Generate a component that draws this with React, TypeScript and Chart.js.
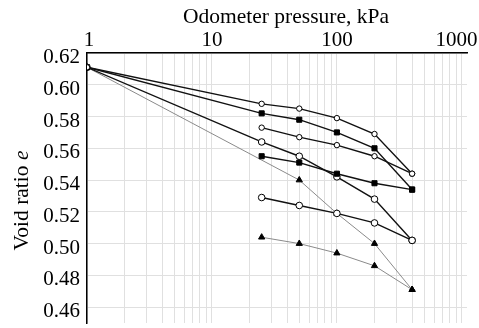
import { useEffect, useRef } from 'react';
import { Chart, registerables } from 'chart.js';

Chart.register(...registerables);

// ---- data ----
const pressures = [1, 25, 50, 100, 200, 400];
const seriesOpenTop = [0.611, 0.588, 0.585, 0.579, 0.569, 0.544];
const seriesSquareTop = [0.611, 0.582, 0.578, 0.570, 0.560, 0.534];
const seriesOpenMid = [null, 0.573, 0.567, 0.562, 0.555, 0.544];
const seriesSquareLow = [null, 0.555, 0.551, 0.544, 0.538, 0.534];
const seriesCircleA = [0.611, 0.564, 0.555, 0.542, 0.528, 0.502];
const seriesCircleB = [null, 0.529, 0.524, 0.519, 0.513, 0.502];
const seriesTriangleA = [0.611, null, 0.540, 0.519, 0.500, 0.471];
const seriesTriangleB = [null, 0.504, 0.500, 0.494, 0.486, 0.471];

const xTickValues = [
  1, 2, 3, 4, 5, 6, 7, 8, 9,
  10, 20, 30, 40, 50, 60, 70, 80, 90,
  100, 200, 300, 400, 500, 600, 700, 800, 900,
  1000,
];
const xTickLabels: Record<string, string> = {
  '1': '\u20091',
  '10': '10',
  '100': '100',
  '1000': '1000\u2002',
};
const yTickValues = [0.46, 0.48, 0.50, 0.52, 0.54, 0.56, 0.58, 0.60, 0.62];

const xTitle = 'Odometer pressure, kPa';
const yTitleMain = 'Void ratio ';
const yTitleItalic = 'e';

const FONT = '"Liberation Serif", "Times New Roman", serif';

function toPoints(vals: (number | null)[]) {
  return pressures
    .map((p, i) => ({ x: p, y: vals[i] }))
    .filter((pt) => pt.y !== null) as { x: number; y: number }[];
}

const titlePlugin = {
  id: 'customTitles',
  afterDraw(chart: any) {
    const { ctx, chartArea } = chart;
    ctx.save();
    ctx.fillStyle = '#000';
    ctx.font = `21.5px ${FONT}`;
    ctx.textAlign = 'center';
    ctx.textBaseline = 'alphabetic';
    ctx.fillText(xTitle, (chartArea.left + chartArea.right) / 2 + 9, 23);

    ctx.translate(28, 200.5);
    ctx.rotate(-Math.PI / 2);
    ctx.font = `21.5px ${FONT}`;
    const w1 = ctx.measureText(yTitleMain).width;
    ctx.font = `italic 21.5px ${FONT}`;
    const w2 = ctx.measureText(yTitleItalic).width;
    const start = -(w1 + w2) / 2;
    ctx.textAlign = 'left';
    ctx.font = `21.5px ${FONT}`;
    ctx.fillText(yTitleMain, start, 0);
    ctx.font = `italic 21.5px ${FONT}`;
    ctx.fillText(yTitleItalic, start + w1, 0);
    ctx.restore();
  },
};

export default function App() {
  const ref = useRef<HTMLCanvasElement | null>(null);

  useEffect(() => {
    if (!ref.current) return;
    const black = '#111';
    const grey = '#8a8a8a';
    const openCircle = (r: number) => ({
      pointStyle: 'circle',
      pointRadius: r,
      pointBackgroundColor: '#fff',
      pointBorderColor: '#000',
      pointBorderWidth: 1,
      borderColor: black,
      borderWidth: 1.4,
    });
    const square = {
      pointStyle: 'rect',
      pointRadius: 3.6,
      pointBackgroundColor: '#000',
      pointBorderColor: '#000',
      pointBorderWidth: 1,
      borderColor: black,
      borderWidth: 1.4,
    };
    const triangle = {
      pointStyle: 'triangle',
      pointRadius: 3.6,
      pointBackgroundColor: '#000',
      pointBorderColor: '#000',
      pointBorderWidth: 1,
      borderColor: grey,
      borderWidth: 1,
    };

    const chart = new Chart(ref.current, {
      type: 'line',
      data: {
        datasets: [
          { data: toPoints(seriesOpenTop), ...openCircle(2.7) },
          { data: toPoints(seriesSquareTop), ...square },
          { data: toPoints(seriesOpenMid), ...openCircle(2.7) },
          { data: toPoints(seriesSquareLow), ...square },
          { data: toPoints(seriesCircleA), ...openCircle(3.3) },
          { data: toPoints(seriesCircleB), ...openCircle(3.3) },
          { data: toPoints(seriesTriangleA), ...triangle },
          { data: toPoints(seriesTriangleB), ...triangle },
        ] as any,
      },
      options: {
        responsive: false,
        animation: false,
        layout: { padding: { left: 0, top: 0, right: 12, bottom: 1 } },
        plugins: {
          legend: { display: false },
          tooltip: { enabled: false },
        },
        elements: { line: { tension: 0, fill: false } },
        scales: {
          x: {
            type: 'logarithmic',
            position: 'top',
            min: 1,
            max: 1100,
            afterBuildTicks: (scale: any) => {
              scale.ticks = xTickValues.map((v) => ({ value: v }));
            },
            afterFit: (scale: any) => {
              scale.height = 53;
              scale.paddingLeft = 0;
              scale.paddingRight = 0;
            },
            ticks: {
              autoSkip: false,
              maxRotation: 0,
              padding: 0,
              color: '#000',
              font: { family: FONT, size: 21 },
              callback: (value: any) => xTickLabels[String(value)] ?? '',
            },
            grid: { color: '#e0e0e0', lineWidth: 1, drawTicks: false },
            border: { display: true, color: '#000', width: 1.5 },
          },
          y: {
            type: 'linear',
            min: 0.45,
            max: 0.62,
            afterBuildTicks: (scale: any) => {
              scale.ticks = yTickValues.map((v) => ({ value: v }));
            },
            afterFit: (scale: any) => {
              scale.width = 87;
              scale.paddingTop = 0;
              scale.paddingBottom = 0;
            },
            ticks: {
              padding: 7,
              labelOffset: 4.5,
              color: '#000',
              font: { family: FONT, size: 21 },
              callback: (value: any) => Number(value).toFixed(2),
            },
            grid: { color: '#e0e0e0', lineWidth: 1, drawTicks: false },
            border: { display: true, color: '#000', width: 1.5 },
          },
        },
      } as any,
      plugins: [titlePlugin],
    });
    return () => chart.destroy();
  }, []);

  return (
    <div style={{ position: 'fixed', left: 0, top: 0, width: 479, height: 328, background: '#fff' }}>
      <canvas ref={ref} width={479} height={328} style={{ display: 'block' }} />
    </div>
  );
}
